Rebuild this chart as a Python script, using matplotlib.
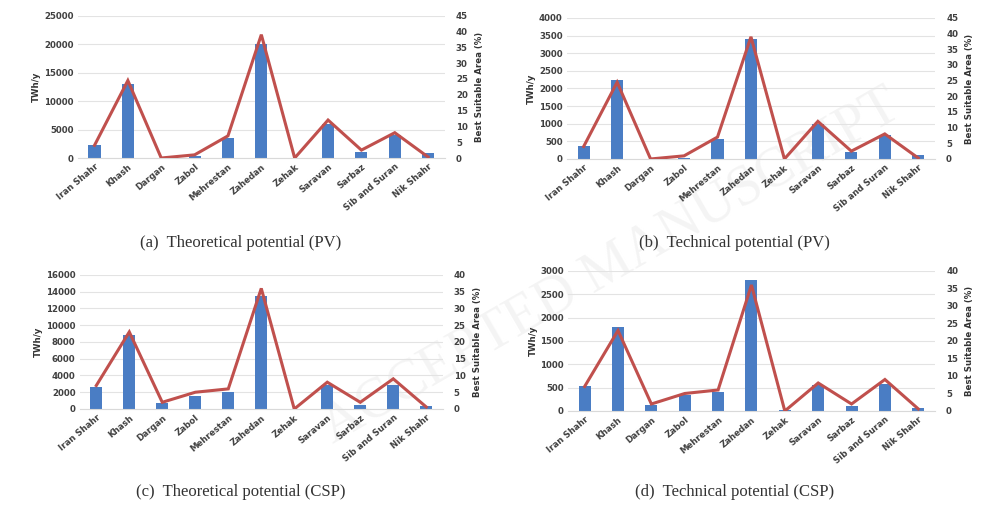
import matplotlib
matplotlib.use("Agg")
import matplotlib.pyplot as plt
import numpy as np

regions = ["Iran Shahr", "Khash", "Dargan", "Zabol", "Mehrestan", "Zahedan",
           "Zehak", "Saravan", "Sarbaz", "Sib and Suran", "Nik Shahr"]

# TWh/y bars
theo_pv = [2200, 13000, 50, 300, 3500, 20000, 30, 6000, 1000, 4000, 800]
tech_pv = [380, 2250, 10, 40, 560, 3400, 10, 1000, 200, 680, 100]
theo_csp = [2600, 8800, 700, 1600, 2000, 13500, 50, 2900, 500, 2900, 400]
tech_csp = [530, 1800, 130, 350, 400, 2800, 20, 550, 100, 580, 70]

# Best suitable area (%) lines
area_pv = [4, 24.5, 0, 1, 7, 39, 0, 12, 2.5, 8, 0.3]
area_csp = [7, 23, 2, 5, 6, 36, 0, 8, 2, 9, 0.6]

captions = ["(a)  Theoretical potential (PV)", "(b)  Technical potential (PV)",
            "(c)  Theoretical potential (CSP)", "(d)  Technical potential (CSP)"]

panels = [
    dict(bars=theo_pv, line=area_pv, lmax=25000, lstep=5000, rmax=45, rstep=5,
         rect=[0.079, 0.6926, 0.3726, 0.2769], cap=(0.244, 0.528)),
    dict(bars=tech_pv, line=area_pv, lmax=4000, lstep=500, rmax=45, rstep=5,
         rect=[0.5756, 0.6907, 0.3736, 0.2743], cap=(0.746, 0.528)),
    dict(bars=theo_csp, line=area_csp, lmax=16000, lstep=2000, rmax=40, rstep=5,
         rect=[0.081, 0.2043, 0.3685, 0.2607], cap=(0.244, 0.042)),
    dict(bars=tech_csp, line=area_csp, lmax=3000, lstep=500, rmax=40, rstep=5,
         rect=[0.5766, 0.2004, 0.3726, 0.2724], cap=(0.746, 0.042)),
]

bar_color = "#4A7DC4"
line_color = "#C0504D"
tick_kw = dict(fontsize=6.2, fontweight="bold", color="#404040", family="DejaVu Sans")

fig = plt.figure(figsize=(9.85, 5.14), dpi=100)
fig.patch.set_facecolor("white")

# faint watermark behind everything
fig.text(0.62, 0.48, "ACCEPTED MANUSCRIPT", fontsize=40, color="#f4f4f4",
         rotation=30, ha="center", va="center", family="Liberation Serif", zorder=-10)

x = np.arange(len(regions))
for i, p in enumerate(panels):
    ax = fig.add_axes(p["rect"])
    ax.patch.set_alpha(0)
    ax.bar(x, p["bars"], width=0.36, color=bar_color, zorder=2)
    ax.set_ylim(0, p["lmax"])
    ax.set_xlim(-0.5, len(regions) - 0.5)
    ax.set_yticks(np.arange(0, p["lmax"] + 1, p["lstep"]))
    ax.yaxis.grid(True, color="#e3e3e3", linewidth=0.8, zorder=0)
    ax.set_axisbelow(True)
    for s in ["top", "right", "left"]:
        ax.spines[s].set_visible(False)
    ax.spines["bottom"].set_color("#d9d9d9")
    ax.tick_params(axis="both", length=0, pad=3)
    ax.set_xticks(x)
    ax.set_xticklabels(regions, rotation=40, ha="right", rotation_mode="anchor", **tick_kw)
    for lab in ax.get_yticklabels():
        lab.set_fontsize(tick_kw["fontsize"]); lab.set_fontweight("bold"); lab.set_color("#404040")
    ax.set_ylabel("TWh/y", fontsize=6.2, fontweight="bold", color="#333333", labelpad=2)

    ax2 = ax.twinx()
    ax2.patch.set_alpha(0)
    ax2.plot(x, p["line"], color=line_color, linewidth=2.2, zorder=3, solid_joinstyle="miter")
    ax2.set_ylim(0, p["rmax"])
    ax2.set_yticks(np.arange(0, p["rmax"] + 1, p["rstep"]))
    for s in ["top", "right", "left", "bottom"]:
        ax2.spines[s].set_visible(False)
    ax2.tick_params(axis="y", length=0, pad=8)
    for lab in ax2.get_yticklabels():
        lab.set_fontsize(tick_kw["fontsize"]); lab.set_fontweight("bold"); lab.set_color("#404040")
    ax2.set_ylabel("Best Suitable Area (%)", fontsize=6.2, fontweight="bold",
                   color="#333333", labelpad=5)

    fig.text(p["cap"][0], p["cap"][1], captions[i], fontsize=12, ha="center", va="center",
             family="Liberation Serif", color="#333333")

fig.savefig("out.png", dpi=100, facecolor="white")
